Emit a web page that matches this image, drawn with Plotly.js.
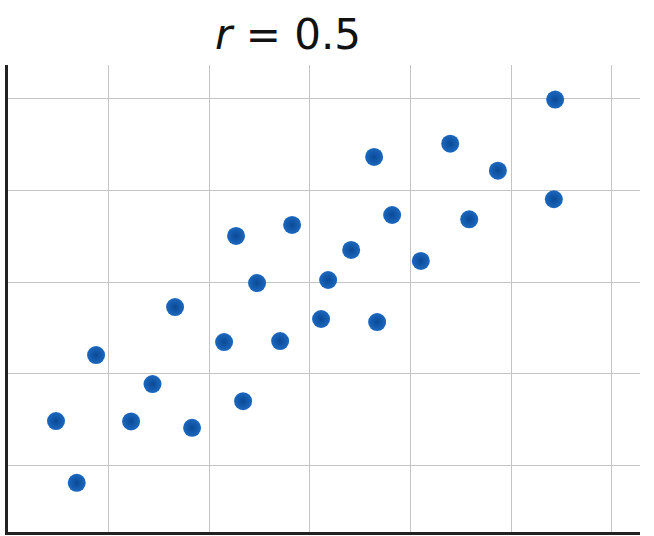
<!DOCTYPE html>
<html>
<head>
<meta charset="utf-8">
<script src="https://cdn.plot.ly/plotly-3.0.1.min.js"></script>
<style>html,body{margin:0;padding:0;background:#fff;}#chart{width:654px;height:536px;}</style>
</head>
<body>
<div id="chart"></div>
<script>
const xValues = [0.477, 0.683, 0.875, 1.223, 1.436, 1.660, 1.829, 2.147, 2.266, 2.336, 2.475, 2.704, 2.823, 3.111, 3.181, 3.410, 3.638, 3.668, 3.817, 4.102, 4.394, 4.583, 4.868, 5.424, 5.437];
const yValues = [1.481, 0.807, 2.202, 1.478, 1.885, 2.727, 1.408, 2.344, 3.503, 1.699, 2.989, 2.355, 3.623, 2.596, 3.022, 3.350, 4.366, 2.563, 3.732, 3.230, 4.511, 3.685, 4.216, 3.904, 4.992];
const xTicks = [1, 2, 3, 4, 5, 6];
const yTicks = [1, 2, 3, 4, 5];
const titleText = '<i>r</i> = 0.5';

const trace = {
  x: xValues, y: yValues, type: 'scatter', mode: 'markers',
  marker: {size: 18, color: '#1c68bf', gradient: {type: 'radial', color: '#0a4a96'}, line: {width: 0}},
  hoverinfo: 'none'
};
const layout = {
  width: 654, height: 536,
  margin: {l: 8, r: 14, t: 65, b: 4},
  paper_bgcolor: '#fff', plot_bgcolor: '#fff',
  showlegend: false,
  title: {text: titleText, font: {family: 'DejaVu Sans', size: 42, color: '#111'}, x: 288/654, xanchor: 'center', xref: 'container', y: 0.964, yanchor: 'top', yref: 'container'},
  xaxis: {range: [0, 6.28], tickvals: xTicks, showticklabels: false, ticks: '', showgrid: true, gridcolor: '#c4c4c4', gridwidth: 1, zeroline: false, showline: true, linecolor: '#222', linewidth: 3, fixedrange: true},
  yaxis: {range: [0.27, 5.37], tickvals: yTicks, showticklabels: false, ticks: '', showgrid: true, gridcolor: '#c4c4c4', gridwidth: 1, zeroline: false, showline: true, linecolor: '#222', linewidth: 3, fixedrange: true}
};
Plotly.newPlot('chart', [trace], layout, {displayModeBar: false, staticPlot: true});
</script>
</body>
</html>
